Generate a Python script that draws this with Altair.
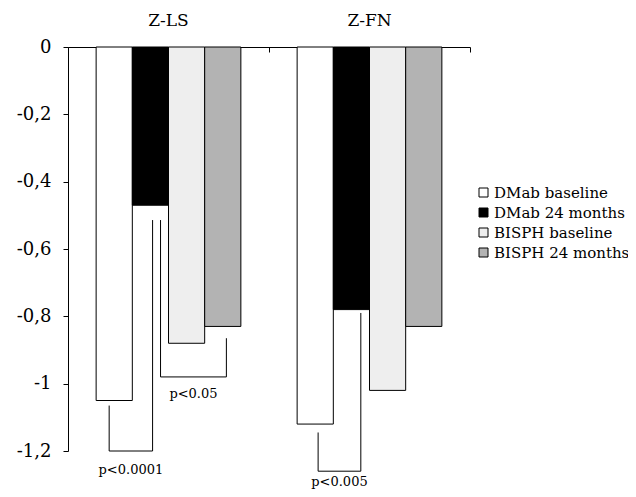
import altair as alt
import pandas as pd

# ---- data ----
categories = ["Z-LS", "Z-FN"]
series = ["DMab baseline", "DMab 24 months", "BISPH baseline", "BISPH 24 months"]
values_zls = [-1.05, -0.47, -0.88, -0.83]
values_zfn = [-1.12, -0.78, -1.02, -0.83]
y_ticks = [0, -0.2, -0.4, -0.6, -0.8, -1.0, -1.2]

bracket_labels = ["p<0.0001", "p<0.05", "p<0.005"]
bracket_category = ["Z-LS", "Z-LS", "Z-FN"]
bracket_from = ["DMab baseline", "DMab 24 months", "DMab baseline"]
bracket_to = ["DMab 24 months", "BISPH 24 months", "DMab 24 months"]
bracket_from_top = [-1.065, -0.514, -1.145]
bracket_to_top = [-0.514, -0.865, -0.79]
bracket_bottom = [-1.2, -0.98, -1.26]

# ---- layout (style) ----
GROUP_PAD = 0.14
BAR_W = 0.18
leg_from_frac = [0.36, 0.78, 0.58]
leg_to_frac = [0.56, 0.60, 0.76]
label_gap_px = [19, 17, 11]
fills = ["#ffffff", "#000000", "#eeeeee", "#b3b3b3"]
stroke_widths = [1, 1, 1.8, 1.8]
FONT = "DejaVu Serif"
W, H = 402, 404
Y_MIN = -1.2

rows = []
for ci, (cat, vals) in enumerate(zip(categories, [values_zls, values_zfn])):
    for si, (s, v) in enumerate(zip(series, vals)):
        x0 = ci + GROUP_PAD + BAR_W * si
        rows.append({"category": cat, "series": s, "value": v, "x": x0, "x1": x0 + BAR_W})
bar_df = pd.DataFrame(rows)


def bar_x(cat, s, frac):
    ci = categories.index(cat)
    si = series.index(s)
    return ci + GROUP_PAD + BAR_W * si + BAR_W * frac


px_per_unit = H / abs(Y_MIN)
line_rows, label_rows = [], []
for k, lab in enumerate(bracket_labels):
    xa = bar_x(bracket_category[k], bracket_from[k], leg_from_frac[k])
    xb = bar_x(bracket_category[k], bracket_to[k], leg_to_frac[k])
    pts = [(xa, bracket_from_top[k]), (xa, bracket_bottom[k]),
           (xb, bracket_bottom[k]), (xb, bracket_to_top[k])]
    for o, (x, y) in enumerate(pts):
        line_rows.append({"bracket": lab, "order": o, "x": x, "value": y})
    label_rows.append({"label": lab, "x": (xa + xb) / 2,
                       "value": bracket_bottom[k] - label_gap_px[k] / px_per_unit})
line_df = pd.DataFrame(line_rows)
label_df = pd.DataFrame(label_rows)
title_df = pd.DataFrame({"category": categories,
                         "x": [i + 0.5 for i in range(len(categories))]})

xscale = alt.Scale(domain=[0, len(categories)], nice=False, zero=False)
yscale = alt.Scale(domain=[Y_MIN, 0], nice=False, zero=False)

x_axis = alt.Axis(orient="bottom", offset=-H, values=[0, 1, 2], labels=False,
                  ticks=True, tickSize=5, tickColor="black", domainColor="black",
                  domainWidth=1, tickWidth=1, grid=False, title=None)
y_axis = alt.Axis(values=y_ticks, grid=False, title=None, tickSize=5,
                  tickColor="black", domainColor="black", labelColor="black",
                  labelFont=FONT, labelFontSize=18, labelPadding=12,
                  labelExpr="datum.value == 0 ? '0' : '-' + replace(format(abs(datum.value), '.2~f'), '.', ',')")

X = alt.X("x:Q", scale=xscale, axis=x_axis)
Y = alt.Y("value:Q", scale=yscale, axis=y_axis, stack=None)

bars = alt.Chart(bar_df).mark_bar(stroke="black").encode(
    x=X,
    x2="x1:Q",
    y=Y,
    y2=alt.datum(0),
    fill=alt.Fill("series:N", scale=alt.Scale(domain=series, range=fills),
                  legend=alt.Legend(title=None, orient="none", legendX=408, legendY=138,
                                    padding=0, symbolType="square", symbolSize=81,
                                    symbolStrokeColor="black", symbolStrokeWidth=1,
                                    labelFont=FONT, labelFontSize=15, labelColor="black",
                                    labelOffset=3, rowPadding=4, labelLimit=300)),
    strokeWidth=alt.StrokeWidth("series:N", scale=alt.Scale(domain=series, range=stroke_widths),
                                legend=None),
)

brackets = alt.Chart(line_df).mark_line(color="black", strokeWidth=1, interpolate="linear").encode(
    x=X,
    y=Y,
    detail="bracket:N",
    order="order:Q",
)

p_labels = alt.Chart(label_df).mark_text(font=FONT, fontSize=13, color="black",
                                         baseline="middle").encode(
    x=X,
    y=Y,
    text="label:N",
)

titles = alt.Chart(title_df).mark_text(font=FONT, fontSize=17, color="black",
                                       baseline="middle").encode(
    x=X,
    y=alt.value(-26),
    text="category:N",
)

chart = alt.layer(bars, brackets, p_labels, titles).properties(
    width=W, height=H,
    autosize=alt.AutoSizeParams(type="none"),
    padding={"left": 60, "top": 39, "right": 158, "bottom": 38},
).configure_view(stroke=None)

chart.save("out.html", embed_options={"renderer": "svg", "actions": False})
